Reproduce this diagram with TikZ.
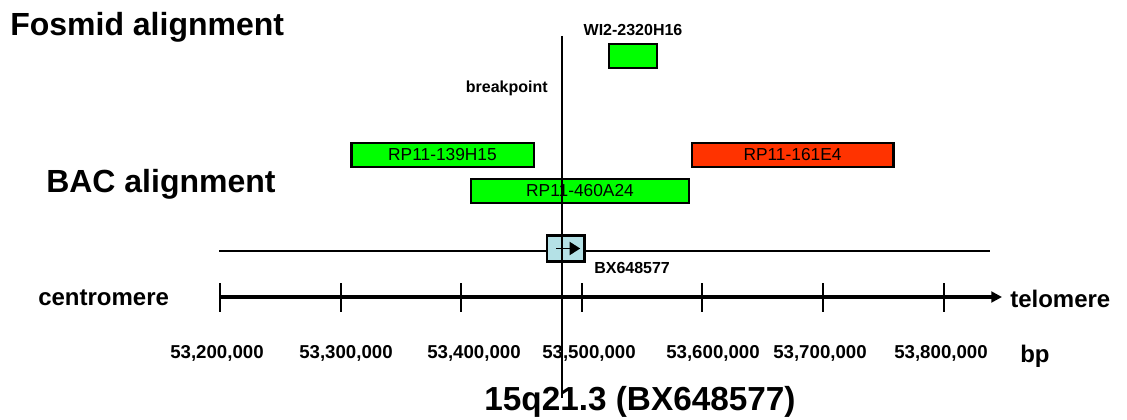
\documentclass[tikz,border=0pt]{standalone}
\usepackage{fontspec}
\setmainfont{Liberation Sans}
\usetikzlibrary{arrows.meta, positioning}
\definecolor{clonegreen}{RGB}{0,255,0}
\definecolor{clonered}{RGB}{255,51,0}
\definecolor{geneblue}{RGB}{180,225,230}
\tikzstyle{clonebox} = [rectangle, minimum height=18pt, inner sep=0pt, text centered, draw=black, line width=2pt, fill=clonegreen, font=\fontsize{13}{15}\selectfont]
\tikzstyle{biglabel} = [inner sep=0pt, anchor=base west, font=\bfseries\fontsize{24}{28}\selectfont]
\tikzstyle{smalllabel} = [inner sep=0pt, font=\bfseries\fontsize{12}{14}\selectfont]
\tikzstyle{endlabel} = [inner sep=0pt, anchor=base west, font=\bfseries\fontsize{18}{20}\selectfont]
\tikzstyle{numlabel} = [inner sep=0pt, anchor=base, font=\bfseries\fontsize{14}{16}\selectfont]
\tikzstyle{scaleaxis} = [line width=2.5pt, -{Triangle[length=8pt,width=8pt]}]
\tikzstyle{axistick} = [line width=1.5pt]

\begin{document}
\begin{tikzpicture}[x=0.75pt, y=-0.75pt]
\useasboundingbox (0,0) rectangle (1127,420);

% Titles
\node (fostitle) [biglabel] at (10,36) {Fosmid alignment};
\node (bactitle) [biglabel] at (46,193) {BAC alignment};

% Clones
\node (fos) [clonebox, minimum width=36pt] at (633,56) {};
\node (fosname) [smalllabel, above=5pt of fos] {WI2-2320H16};
\node (rp139) [clonebox, minimum width=137pt] at (442.5,155) {RP11-139H15};
\node (rp161) [clonebox, minimum width=151pt, fill=clonered] at (792.5,155) {RP11-161E4};
\node (rp460) [clonebox, minimum width=163.5pt] at (580,191) {RP11-460A24};

% Gene
\coordinate (genl) at (219,251);
\coordinate (genr) at (990,251);
\draw [line width=1.2pt] (genl) -- (genr);
\node (bx) [rectangle, draw=black, line width=2pt, fill=geneblue, minimum width=28pt, minimum height=19pt, inner sep=0pt] at (565.5,248.5) {};
\draw [line width=1.2pt, -{Triangle[length=8pt,width=10pt]}] ([xshift=-7pt]bx.center) -- ([xshift=11pt]bx.center);
\node (bxname) [smalllabel, anchor=base west] at (594,273) {BX648577};

% Scale
\coordinate (axstart) at (219,297);
\coordinate (axend) at (1002,297);
\draw [scaleaxis] (axstart) -- (axend);
\foreach \x/\lab/\kb [count=\i] in {220/217/200, 341/346/300, 461/474/400, 582/589/500, 702/713/600, 823/820/700, 944/941/800} {
  \draw [axistick] (\x,283) -- (\x,312);
  \node (num\i) [numlabel] at (\lab,358) {53,\kb,000};
}
\node (centro) [endlabel] at (38,305) {centromere};
\node (telo) [endlabel] at (1010,307) {telomere};
\node (bp) [endlabel] at (1020,362) {bp};

% Breakpoint
\coordinate (bptop) at (562,36);
\coordinate (bpbot) at (562,398);
\draw [line width=2.2pt] (bptop) -- (bpbot);
\node (bplabel) [smalllabel, anchor=base east] at (548,93) {breakpoint};

% Labels
\node (locus) [inner sep=0pt, anchor=base, font=\bfseries\fontsize{25}{28}\selectfont] at (640,410) {15q21.3 (BX648577)};

\end{tikzpicture}
\end{document}
